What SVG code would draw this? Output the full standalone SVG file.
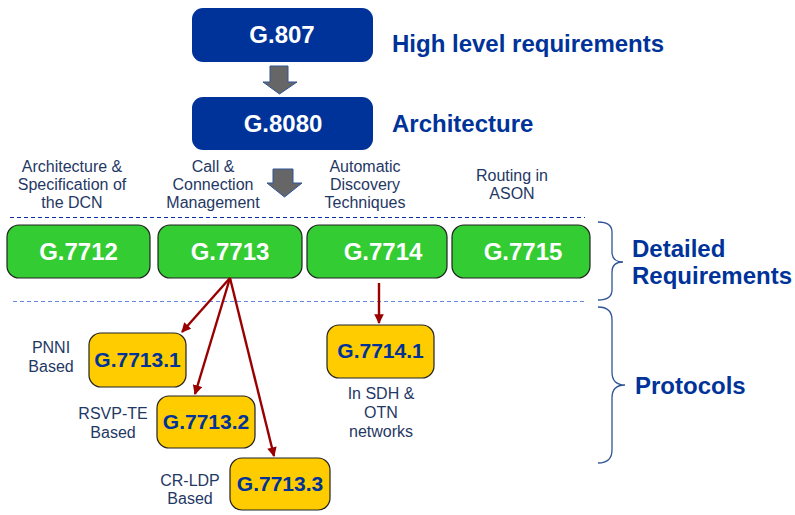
<svg xmlns="http://www.w3.org/2000/svg" width="795" height="515" viewBox="0 0 795 515">
  <style>
    .blue { fill: #003399; }
    .green { fill: #33cc33; stroke: #222; stroke-width: 1.2; }
    .yellow { fill: #ffcc00; stroke: #222; stroke-width: 1.2; }
    .white-t { font-family: "Liberation Sans", Arial, sans-serif; font-weight: bold; font-size: 24px; fill: #ffffff; text-anchor: middle; }
    .y-t { font-family: "Liberation Sans", Arial, sans-serif; font-weight: bold; font-size: 21px; fill: #003399; text-anchor: middle; }
    .head { font-family: "Liberation Sans", Arial, sans-serif; font-weight: bold; font-size: 24px; fill: #003399; }
    .lbl { font-family: "Liberation Sans", Arial, sans-serif; font-size: 16px; fill: #1f3864; text-anchor: middle; }
    .gray-arrow { fill: #666666; stroke: #2f5597; stroke-width: 1; }
    .brace { fill: none; stroke: #2f5597; stroke-width: 1.3; }
    .red { stroke: #990000; stroke-width: 2.4; fill: none; }
  </style>
  <defs>
    <marker id="redHead" viewBox="0 0 10 10" refX="9" refY="5" markerWidth="4.2" markerHeight="4" orient="auto" markerUnits="strokeWidth">
      <path d="M0,0 L10,5 L0,10 z" fill="#990000"/>
    </marker>
  </defs>

  <rect width="795" height="515" fill="#ffffff"/>

  <!-- top level -->
  <g id="g807">
    <rect x="192" y="8" width="181" height="54" rx="11" class="blue"/>
    <text x="282" y="43" class="white-t">G.807</text>
  </g>
  <g id="g8080">
    <rect x="192" y="97" width="181" height="53" rx="11" class="blue"/>
    <text x="283" y="132" class="white-t">G.8080</text>
  </g>
  <text x="392" y="52" class="head">High level requirements</text>
  <text x="392" y="132" class="head">Architecture</text>

  <!-- block arrows -->
  <path class="gray-arrow" d="M270,66 H288 V82 H297 L279.5,94 L263,82 H270 Z"/>
  <path class="gray-arrow" d="M273,169 H293 V183 H302 L284.5,197 L267,183 H273 Z"/>

  <!-- column captions -->
  <g class="lbl">
    <text x="72" y="172">Architecture &amp;</text>
    <text x="72" y="190">Specification of</text>
    <text x="72" y="208">the DCN</text>
    <text x="213" y="172">Call &amp;</text>
    <text x="213" y="190">Connection</text>
    <text x="213" y="208">Management</text>
    <text x="365" y="172">Automatic</text>
    <text x="365" y="190">Discovery</text>
    <text x="365" y="208">Techniques</text>
    <text x="512" y="181">Routing in</text>
    <text x="512" y="199">ASON</text>
  </g>

  <!-- separators -->
  <line x1="10" y1="217.5" x2="585" y2="217.5" stroke="#0a2f9e" stroke-width="1.2" stroke-dasharray="4,3"/>
  <line x1="13" y1="301.5" x2="585" y2="301.5" stroke="#6688dd" stroke-width="1.2" stroke-dasharray="4,3"/>

  <!-- detailed requirements -->
  <g id="g7712">
    <rect x="7" y="225" width="143" height="53" rx="12" class="green"/>
    <text x="78.5" y="260" class="white-t">G.7712</text>
  </g>
  <g id="g7713">
    <rect x="158" y="225" width="144" height="53" rx="12" class="green"/>
    <text x="230" y="260" class="white-t">G.7713</text>
  </g>
  <g id="g7714">
    <rect x="307" y="225" width="140" height="53" rx="12" class="green"/>
    <text x="383" y="260" class="white-t">G.7714</text>
  </g>
  <g id="g7715">
    <rect x="452" y="225" width="138" height="53" rx="12" class="green"/>
    <text x="523" y="260" class="white-t">G.7715</text>
  </g>

  <!-- braces -->
  <path class="brace" d="M598,222 Q612,222 612,232 V252 Q612,262 623,262 Q612,262 612,272 V290 Q612,300 598,300"/>
  <path class="brace" d="M598,307 Q612,307 612,320 V372 Q612,385 625,385 Q612,385 612,398 V450 Q612,463 598,463"/>
  <text x="632" y="257" class="head">Detailed</text>
  <text x="632" y="284" class="head">Requirements</text>
  <text x="635" y="394" class="head">Protocols</text>

  <!-- protocols -->
  <g id="g7713_1">
    <rect x="89" y="333" width="97" height="54" rx="12" class="yellow"/>
    <text x="137.5" y="367" class="y-t">G.7713.1</text>
  </g>
  <g id="g7713_2">
    <rect x="157" y="396" width="98" height="52" rx="12" class="yellow"/>
    <text x="206" y="429" class="y-t">G.7713.2</text>
  </g>
  <g id="g7713_3">
    <rect x="230" y="458" width="100" height="52" rx="12" class="yellow"/>
    <text x="280" y="491" class="y-t">G.7713.3</text>
  </g>
  <g id="g7714_1">
    <rect x="327" y="325" width="107" height="53" rx="12" class="yellow"/>
    <text x="380.5" y="358" class="y-t">G.7714.1</text>
  </g>

  <g class="lbl">
    <text x="51" y="353">PNNI</text>
    <text x="51" y="372">Based</text>
    <text x="113" y="419">RSVP-TE</text>
    <text x="113" y="438">Based</text>
    <text x="190" y="486">CR-LDP</text>
    <text x="190" y="504">Based</text>
    <text x="381" y="399">In SDH &amp;</text>
    <text x="381" y="418">OTN</text>
    <text x="381" y="437">networks</text>
  </g>

  <!-- connectors -->
  <g id="connectors">
    <line x1="230" y1="278" x2="182" y2="332" class="red" marker-end="url(#redHead)"/>
    <line x1="230" y1="278" x2="195" y2="394" class="red" marker-end="url(#redHead)"/>
    <line x1="230" y1="278" x2="274" y2="456" class="red" marker-end="url(#redHead)"/>
    <line x1="379" y1="283" x2="379" y2="323" class="red" marker-end="url(#redHead)"/>
  </g>
</svg>
